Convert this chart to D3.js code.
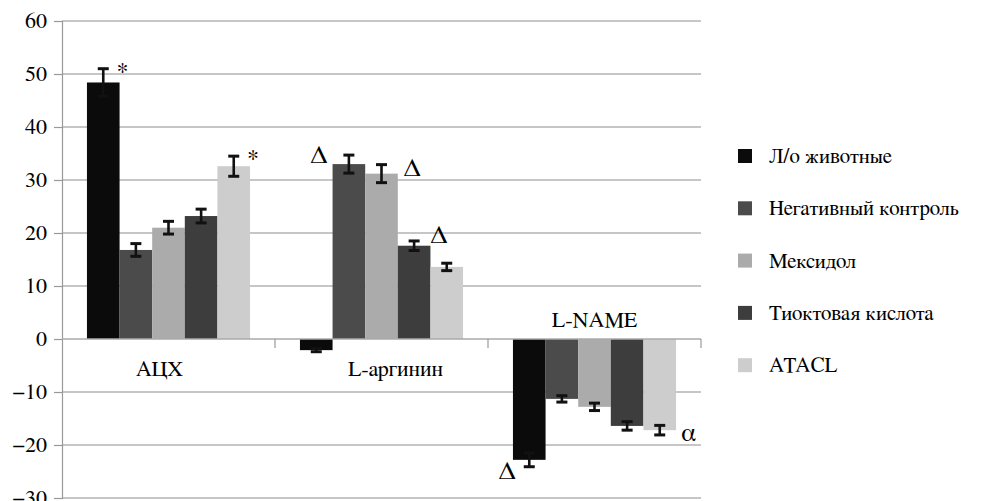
<!DOCTYPE html>
<html><head><meta charset="utf-8">
<script src="https://cdn.jsdelivr.net/npm/d3@7/dist/d3.min.js"></script>
</head><body style="margin:0;background:#fff">
<svg id="c" width="986" height="501" style="display:block"></svg>
<script>
const categories = ["АЦХ", "L-аргинин", "L-NAME"];
const series = ["Л/о животные", "Негативный контроль", "Мексидол", "Тиоктовая кислота", "ATACL"];
const colors = ["#0b0b0b", "#4b4b4b", "#ababab", "#3d3d3d", "#cdcdcd"];
// values[series][category]
const values = [
  [48.4, -2.1, -22.8],
  [16.8, 33.0, -11.3],
  [21.0, 31.2, -12.8],
  [23.2, 17.6, -16.4],
  [32.6, 13.6, -17.2]
];
const errors = [
  [2.6, 0.3, 1.3],
  [1.2, 1.7, 0.6],
  [1.2, 1.7, 0.7],
  [1.3, 0.9, 0.8],
  [1.9, 0.7, 0.9]
];
const yTicks = [-30, -20, -10, 0, 10, 20, 30, 40, 50, 60];
const annotations = [
  {cat: 0, s: 0, sym: "*", side: "top"},
  {cat: 0, s: 4, sym: "*", side: "top"},
  {cat: 1, s: 1, sym: "Δ", side: "left"},
  {cat: 1, s: 2, sym: "Δ", side: "right"},
  {cat: 1, s: 3, sym: "Δ", side: "right"},
  {cat: 2, s: 0, sym: "Δ", side: "below"},
  {cat: 2, s: 4, sym: "α", side: "belowright"}
];

const svg = d3.select("#c");
const L = 62, R = 701, T = 21, B = 498;
const y = d3.scaleLinear().domain([-30, 60]).range([B, T]);
const x0 = d3.scaleBand().domain(categories).range([L, R]);
const x1 = d3.scaleBand().domain(series).range([0, x0.bandwidth()]).paddingInner(0).paddingOuter(0.765);
const fam = () => '"FreeSerif"';

// gridlines
svg.selectAll("line.grid").data(yTicks.filter(d => d !== 0)).join("line").attr("class", "grid")
  .attr("x1", L).attr("x2", R).attr("y1", d => y(d)).attr("y2", d => y(d))
  .attr("stroke", "#b3b3b3").attr("stroke-width", 1.6);

// y axis line + ticks
const ya = svg.append("g").attr("transform", `translate(${L},0)`)
  .call(d3.axisLeft(y).tickValues(yTicks).tickSize(8).tickFormat(""));
ya.select(".domain").attr("stroke", "#999").attr("stroke-width", 1.2);
ya.selectAll(".tick line").attr("stroke", "#999").attr("stroke-width", 1.2);
const fmt = y.tickFormat();
svg.selectAll("text.ytick").data(yTicks).join("text").attr("class", "ytick")
  .attr("x", L - 15).attr("y", d => y(d) + 7)
  .attr("text-anchor", "end").attr("font-size", 22)
  .style("font-family", fam).text(d => fmt(d));

// bars
series.forEach((s, si) => {
  svg.selectAll("rect.s" + si).data(categories).join("rect").attr("class", "s" + si)
    .attr("x", c => x0(c) + x1(s))
    .attr("width", x1.bandwidth())
    .attr("y", (c, ci) => y(Math.max(0, values[si][ci])))
    .attr("height", (c, ci) => Math.abs(y(values[si][ci]) - y(0)))
    .attr("fill", colors[si]);
});

// x axis line and ticks
svg.append("line").attr("x1", L).attr("x2", R).attr("y1", y(0)).attr("y2", y(0))
  .attr("stroke", "#aaa").attr("stroke-width", 1.6);
svg.selectAll("line.xt").data(categories).join("line").attr("class", "xt")
  .attr("x1", c => x0(c) + x0.bandwidth()).attr("x2", c => x0(c) + x0.bandwidth())
  .attr("y1", y(0)).attr("y2", y(0) + 9).attr("stroke", "#999").attr("stroke-width", 1.2);

// error bars
const eg = svg.append("g").attr("stroke", "#111").attr("stroke-width", 2.6);
series.forEach((s, si) => {
  categories.forEach((c, ci) => {
    const cx = x0(c) + x1(s) + x1.bandwidth() / 2;
    const v = values[si][ci], e = errors[si][ci];
    const y1 = y(v + e), y2 = y(v - e);
    eg.append("line").attr("x1", cx).attr("x2", cx).attr("y1", y1).attr("y2", y2);
    eg.append("line").attr("x1", cx - 5.5).attr("x2", cx + 5.5).attr("y1", y1).attr("y2", y1).attr("stroke-width", 3);
    eg.append("line").attr("x1", cx - 5.5).attr("x2", cx + 5.5).attr("y1", y2).attr("y2", y2).attr("stroke-width", 3);
  });
});

// category labels
const catLabelDx = [-9, 14, 0];
svg.selectAll("text.cat").data(categories).join("text").attr("class", "cat")
  .attr("x", (c, i) => x0(c) + x0.bandwidth() / 2 + catLabelDx[i])
  .attr("y", (c, i) => i === 2 ? y(0) - 12 : y(0) + 37)
  .attr("text-anchor", "middle").attr("font-size", 22)
  .style("font-family", fam).text(c => c);

// annotations
svg.selectAll("text.ann").data(annotations).join("text").attr("class", "ann")
  .style("font-family", fam)
  .attr("font-size", d => d.sym === "*" ? 24 : 26)
  .attr("text-anchor", d => (d.side === "left" || d.side === "below") ? "end" : "start")
  .attr("x", d => {
    const bx = x0(categories[d.cat]) + x1(series[d.s]);
    if (d.side === "top") return bx + x1.bandwidth() - 3;
    if (d.side === "left") return bx - 5;
    if (d.side === "right") return bx + x1.bandwidth() + (d.s === 3 ? 0 : 6);
    if (d.side === "below") return bx + 3;
    return bx + x1.bandwidth() + 5;
  })
  .attr("y", d => {
    const v = values[d.s][d.cat], e = errors[d.s][d.cat];
    if (d.side === "top") return y(v + e) + 10;
    if (d.side === "left") return y(v) - 1;
    if (d.side === "right") return y(v) + (d.s === 3 ? -3 : 2);
    if (d.side === "below") return y(v - e) + 12;
    return y(v - e) + 6;
  })
  .text(d => d.sym);

// legend
svg.selectAll("rect.leg").data(series).join("rect").attr("class", "leg")
  .attr("x", 738).attr("y", (d, i) => 149 + i * 52.3).attr("width", 14).attr("height", 14)
  .attr("fill", (d, i) => colors[i]);
svg.selectAll("text.leg").data(series).join("text").attr("class", "leg")
  .attr("x", 769).attr("y", (d, i) => 163 + i * 52.3).attr("font-size", 21)
  .style("font-family", fam).text(d => d);
</script>
</body></html>
